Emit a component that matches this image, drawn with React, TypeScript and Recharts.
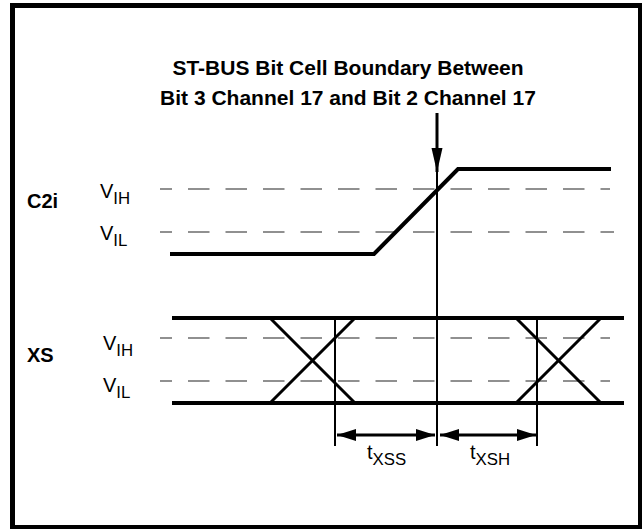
import React from 'react';
import { ComposedChart, Line, XAxis, YAxis, ReferenceLine, ReferenceDot } from 'recharts';

// t: time in ns relative to the ST-BUS bit cell boundary, y: vertical drawing level (down is larger)
const T_DOMAIN = [-437, 205];
const Y_DOMAIN = [0, 529];

const c2iWave = [
  { t: -267, y: 254 },
  { t: -63, y: 254 },
  { t: 21, y: 169 },
  { t: 174, y: 169 },
];
const xsHigh = [{ t: -265, y: 318 }, { t: 187, y: 318 }];
const xsLow = [{ t: -265, y: 403 }, { t: 187, y: 403 }];
const xsFall1 = [{ t: -167, y: 318 }, { t: -82, y: 403 }];
const xsRise1 = [{ t: -167, y: 403 }, { t: -82, y: 318 }];
const xsFall2 = [{ t: 79, y: 318 }, { t: 164, y: 403 }];
const xsRise2 = [{ t: 79, y: 403 }, { t: 164, y: 318 }];

const boundaryArrow = [{ t: 0, y: 113 }, { t: 0, y: 172 }];
const markerTimes = [-102, 0, 100];
const markerTop = [318, 172, 318];
const markerBottom = 446;

const txss = [{ t: -100, y: 435 }, { t: -2, y: 435 }];
const txsh = [{ t: 3, y: 435 }, { t: 99, y: 435 }];

const c2iThresholds = [189, 232];
const xsThresholds = [338, 381];
const dashStart = -277;
const dashEnd = 173;

const titleLines = ['ST-BUS Bit Cell Boundary Between', 'Bit 3 Channel 17 and Bit 2 Channel 17'];

const FONT = '"Liberation Sans", Arial, Helvetica, sans-serif';

function makeArrowDot(dirs: (string | null)[]) {
  return (p: any) => {
    const { cx, cy, index } = p;
    const dir = dirs[index];
    if (!dir || cx == null) return <g key={index} />;
    let pts = '';
    if (dir === 'left') pts = `${cx},${cy} ${cx + 19},${cy - 6} ${cx + 19},${cy + 6}`;
    if (dir === 'right') pts = `${cx},${cy} ${cx - 19},${cy - 6} ${cx - 19},${cy + 6}`;
    if (dir === 'down') pts = `${cx},${cy} ${cx - 5.5},${cy - 24} ${cx + 5.5},${cy - 24}`;
    return <polygon key={index} points={pts} fill="#000" />;
  };
}

function textLabel(main: string, sub: string, opts: { size: number; bold?: boolean; anchor?: string }) {
  return (p: any) => {
    const vb = p.viewBox || {};
    return (
      <text
        x={vb.x}
        y={vb.y}
        textAnchor={opts.anchor || 'start'}
        fontFamily={FONT}
        fontSize={opts.size}
        fontWeight={opts.bold ? 'bold' : 'normal'}
        fill="#000"
      >
        {main}
        {sub ? (
          <tspan fontSize={opts.size * 0.84} dy={6}>
            {sub}
          </tspan>
        ) : null}
      </text>
    );
  };
}

export default function App() {
  const solid = (data: any[], w: number, key: string, dot: any = false) => (
    <Line
      key={key}
      data={data}
      dataKey="y"
      type="linear"
      stroke="#000"
      strokeWidth={w}
      dot={dot}
      activeDot={false}
      isAnimationActive={false}
      strokeLinecap="butt"
    />
  );

  const thresholds = [...c2iThresholds, ...xsThresholds];

  return (
    <div style={{ position: 'relative', width: 642, height: 529, background: '#fff', overflow: 'hidden' }}>
      <style>{'body{margin:0}'}</style>
      <div
        style={{
          position: 'absolute',
          left: 10,
          top: 3,
          width: 633,
          height: 527,
          boxSizing: 'border-box',
          border: '5px solid #000',
        }}
      />
      <div style={{ position: 'absolute', left: 0, top: 0 }}>
        <ComposedChart width={642} height={529} margin={{ top: 0, right: 0, bottom: 0, left: 0 }}>
          <XAxis type="number" dataKey="t" domain={T_DOMAIN} hide allowDataOverflow />
          <YAxis type="number" domain={Y_DOMAIN} reversed hide allowDataOverflow />

          {thresholds.map((lv, i) => (
            <ReferenceLine
              key={`th${i}`}
              segment={[
                { x: dashStart, y: lv },
                { x: dashEnd + (i === 1 ? 4 : 0), y: lv },
              ]}
              stroke="#222"
              strokeWidth={1.1}
              strokeDasharray="21.5 16"
              strokeDashoffset={9.5}
            />
          ))}

          {markerTimes.map((mt, i) => (
            <ReferenceLine
              key={`mk${i}`}
              segment={[
                { x: mt, y: markerTop[i] },
                { x: mt, y: markerBottom },
              ]}
              stroke="#000"
              strokeWidth={2}
            />
          ))}

          {solid(c2iWave, 4, 'c2i')}
          {solid(xsHigh, 4, 'xsh')}
          {solid(xsLow, 4, 'xsl')}
          {solid(xsFall1, 3, 'f1')}
          {solid(xsRise1, 3, 'r1')}
          {solid(xsFall2, 3, 'f2')}
          {solid(xsRise2, 3, 'r2')}
          {solid(boundaryArrow, 3, 'ba', makeArrowDot([null, 'down']))}
          {solid(txss, 3, 'txss', makeArrowDot(['left', 'right']))}
          {solid(txsh, 3, 'txsh', makeArrowDot(['left', 'right']))}

          {titleLines.map((line, i) => (
            <ReferenceDot
              key={`title${i}`}
              x={-89}
              y={75 + i * 30}
              r={0}
              fill="none"
              stroke="none"
              label={textLabel(line, '', { size: 21, bold: true, anchor: 'middle' })}
            />
          ))}

          <ReferenceDot x={-410} y={208} r={0} stroke="none" fill="none" label={textLabel('C2i', '', { size: 20, bold: true })} />
          <ReferenceDot x={-410} y={362} r={0} stroke="none" fill="none" label={textLabel('XS', '', { size: 20, bold: true })} />
          <ReferenceDot x={-337} y={198} r={0} stroke="none" fill="none" label={textLabel('V', 'IH', { size: 20 })} />
          <ReferenceDot x={-337} y={240} r={0} stroke="none" fill="none" label={textLabel('V', 'IL', { size: 20 })} />
          <ReferenceDot x={-334} y={350} r={0} stroke="none" fill="none" label={textLabel('V', 'IH', { size: 20 })} />
          <ReferenceDot x={-334} y={392} r={0} stroke="none" fill="none" label={textLabel('V', 'IL', { size: 20 })} />
          <ReferenceDot x={-70} y={459} r={0} stroke="none" fill="none" label={textLabel('t', 'XSS', { size: 20 })} />
          <ReferenceDot x={33} y={459} r={0} stroke="none" fill="none" label={textLabel('t', 'XSH', { size: 20 })} />
        </ComposedChart>
      </div>
    </div>
  );
}
